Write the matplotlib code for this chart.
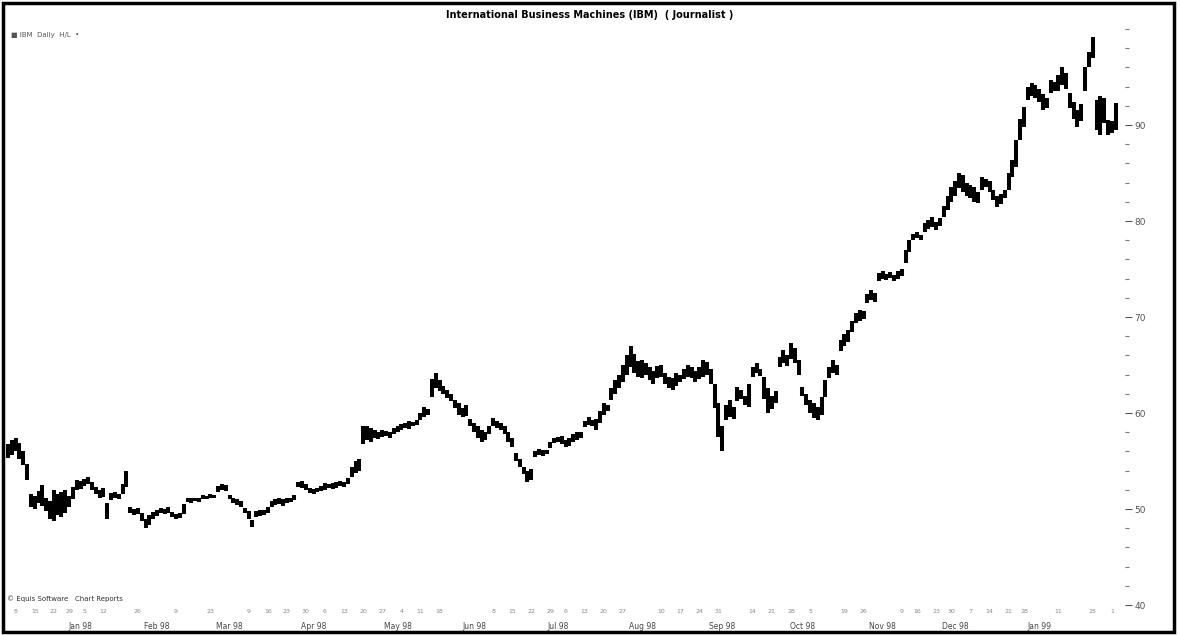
import matplotlib
matplotlib.use("Agg")
import matplotlib.pyplot as plt
from matplotlib.patches import Rectangle
import numpy as np
import pandas as pd
from pandas.tseries.holiday import USFederalHolidayCalendar
from pandas.tseries.offsets import CustomBusinessDay

# daily lows / highs (Dec 97 .. Feb 99)
lows = [
    55.3, 55.6, 56.0, 55.2, 54.6, 53.0, 50.2, 50.0, 50.6, 50.3,
    49.8, 49.0, 48.8, 49.4, 49.2, 49.6, 50.2, 51.0, 52.0, 52.1,
    52.4, 52.6, 52.0, 51.6, 51.2, 51.3, 49.0, 50.9, 51.2, 51.0,
    51.6, 52.3, 49.6, 49.4, 49.5, 48.8, 48.0, 48.3, 49.0, 49.3,
    49.6, 49.5, 49.6, 49.2, 49.0, 49.1, 49.5, 50.7, 50.6, 50.8,
    50.7, 51.0, 51.0, 51.2, 51.1, 51.8, 52.0, 51.9, 51.0, 50.6,
    50.4, 50.2, 49.6, 49.0, 48.1, 49.2, 49.3, 49.4, 49.6, 50.2,
    50.4, 50.5, 50.3, 50.6, 50.7, 50.9, 52.3, 52.2, 52.0, 51.7,
    51.6, 51.8, 51.9, 52.0, 52.2, 52.1, 52.2, 52.4, 52.3, 52.6,
    53.3, 53.8, 54.0, 56.8, 57.2, 57.0, 57.4, 57.3, 57.5, 57.6,
    57.4, 57.8, 58.0, 58.2, 58.4, 58.3, 58.6, 58.8, 59.3, 59.6,
    59.8, 61.7, 62.6, 62.3, 62.0, 61.6, 61.3, 60.5, 59.8, 59.6,
    59.7, 58.6, 58.0, 57.4, 57.0, 57.2, 57.8, 58.6, 58.4, 58.2,
    57.8, 57.0, 56.5, 55.0, 54.4, 53.6, 52.8, 53.0, 55.4, 55.6,
    55.5, 55.7, 56.4, 56.9, 57.0, 56.8, 56.5, 56.6, 57.0, 57.2,
    57.4, 58.5, 58.8, 58.6, 58.2, 59.0, 59.8, 60.2, 61.4, 62.0,
    62.6, 63.2, 64.0, 64.8, 64.2, 63.8, 63.6, 64.0, 63.4, 63.0,
    63.6, 63.8, 63.0, 62.6, 62.4, 62.8, 63.2, 63.5, 63.8, 63.6,
    63.2, 63.5, 63.8, 64.0, 63.0, 60.5, 57.5, 56.0, 59.3, 59.6,
    59.4, 61.3, 61.5, 60.8, 60.6, 63.8, 64.2, 63.9, 61.5, 60.0,
    60.4, 61.0, 64.8, 65.2, 64.9, 65.6, 65.2, 64.0, 61.8, 60.8,
    60.0, 59.5, 59.3, 59.8, 61.7, 63.7, 64.2, 64.0, 66.5, 67.0,
    67.4, 68.4, 69.4, 69.6, 69.8, 71.5, 71.8, 71.6, 73.8, 74.0,
    73.9, 74.1, 73.8, 74.0, 74.3, 75.6, 76.8, 78.0, 78.2, 78.0,
    78.9, 79.2, 79.4, 79.1, 79.5, 80.4, 81.2, 82.0, 82.6, 83.4,
    83.0, 82.6, 82.4, 82.0, 81.9, 83.2, 83.6, 83.0, 82.2, 81.5,
    81.8, 82.4, 83.2, 84.6, 85.6, 88.4, 89.8, 92.6, 93.0, 92.8,
    92.4, 91.6, 91.8, 93.3, 93.6, 93.6, 94.2, 93.8, 91.8, 90.6,
    89.8, 90.4, 93.6, 96.0, 97.0, 89.5, 89.0, 90.2, 89.0, 89.2,
    89.5,
]
highs = [
    56.8, 57.2, 57.4, 56.9, 56.0, 54.7, 51.6, 51.4, 51.9, 52.5,
    51.2, 50.8, 52.0, 51.6, 51.8, 52.0, 51.4, 52.3, 53.0, 52.9,
    53.1, 53.3, 52.8, 52.3, 52.0, 52.2, 50.6, 51.7, 51.8, 51.6,
    52.6, 54.0, 50.2, 50.0, 50.1, 49.6, 49.0, 49.4, 49.7, 49.9,
    50.1, 50.0, 50.2, 49.7, 49.5, 49.6, 50.5, 51.1, 51.1, 51.2,
    51.1, 51.5, 51.4, 51.6, 51.5, 52.4, 52.6, 52.5, 51.5, 51.2,
    51.0, 50.8, 50.1, 49.8, 48.9, 49.8, 49.9, 49.9, 50.2, 50.8,
    51.0, 51.2, 51.0, 51.1, 51.2, 51.5, 52.8, 52.9, 52.6, 52.2,
    52.1, 52.2, 52.4, 52.7, 52.6, 52.7, 52.8, 52.9, 52.8, 53.2,
    54.4, 55.0, 55.2, 58.6, 58.7, 58.4, 58.2, 58.0, 58.2, 58.1,
    58.0, 58.4, 58.7, 58.9, 59.0, 59.2, 59.1, 59.3, 60.0, 60.6,
    60.4, 63.5, 64.2, 63.4, 62.8, 62.4, 62.0, 61.4, 61.0, 60.5,
    60.8, 59.4, 59.0, 58.6, 58.2, 58.0, 58.6, 59.5, 59.2, 59.0,
    58.6, 58.0, 57.4, 55.8, 55.2, 54.4, 54.0, 54.2, 56.0, 56.3,
    56.1, 56.2, 57.0, 57.4, 57.5, 57.6, 57.2, 57.4, 57.8, 58.0,
    58.0, 59.2, 59.6, 59.3, 59.4, 60.2, 61.0, 60.8, 62.6, 63.4,
    64.0, 65.0, 66.0, 67.0, 66.2, 65.4, 65.5, 65.2, 64.8, 64.4,
    64.9, 65.0, 64.2, 63.8, 63.6, 64.2, 64.0, 64.6, 65.0, 64.8,
    64.4, 64.8, 65.5, 65.3, 64.6, 63.0, 61.0, 58.6, 60.8, 61.4,
    60.6, 62.7, 62.4, 61.8, 63.0, 64.8, 65.2, 64.6, 63.8, 62.6,
    61.8, 62.3, 65.8, 66.6, 66.0, 67.3, 66.8, 65.5, 62.7, 62.0,
    61.4, 61.0, 60.6, 61.7, 63.4, 64.8, 65.5, 65.0, 67.6, 68.2,
    68.6, 69.6, 70.4, 70.7, 70.6, 72.4, 72.8, 72.5, 74.6, 74.8,
    74.5, 74.7, 74.4, 74.8, 75.0, 77.0, 78.0, 78.7, 78.9, 78.6,
    79.8, 80.1, 80.4, 79.9, 80.3, 81.6, 82.6, 83.5, 84.2, 85.0,
    84.8, 84.0, 83.8, 83.6, 83.0, 84.6, 84.4, 84.2, 83.2, 82.6,
    82.8, 83.2, 85.0, 86.4, 88.4, 90.6, 91.9, 94.0, 94.4, 94.2,
    93.8, 93.2, 92.8, 94.7, 94.5, 95.2, 96.0, 95.4, 93.3, 92.4,
    91.6, 92.2, 96.0, 97.6, 99.2, 92.6, 93.0, 92.8, 90.5, 90.4,
    92.3,
]

title = "International Business Machines (IBM)  ( Journalist )"
price_ticks = [40, 50, 60, 70, 80, 90]

n = len(lows)
cal = CustomBusinessDay(calendar=USFederalHolidayCalendar())
dates = pd.date_range("1997-12-04", periods=n, freq=cal)
idx = np.arange(n)

fig = plt.figure(figsize=(11.8, 6.35), dpi=100)
ax = fig.add_axes([0.0042, 0.0472, 0.949, 0.907])

ax.vlines(idx, lows, highs, color="black", linewidth=2.9)

ax.set_xlim(-0.8, 292.4)
ax.set_ylim(40, 100)
for s in ax.spines.values():
    s.set_visible(False)

# right hand price scale
ax.yaxis.tick_right()
ax.set_yticks(price_ticks)
ax.set_yticks(np.arange(40, 101, 2), minor=True)
ax.tick_params(axis="y", which="major", length=5, width=0.8, colors="#555555",
               labelsize=6.5, pad=2)
ax.tick_params(axis="y", which="minor", length=3, width=0.8, colors="#777777")

# month labels along the bottom, weekly day numbers above them
months = pd.Series(dates.month)
month_pos = idx[(months != months.shift()).values][1:]
month_pos = month_pos[month_pos < 280]
ax.set_xticks(month_pos)
ax.set_xticklabels([dates[i].strftime("%b %y") for i in month_pos])
week_pos = idx[(pd.Series(dates.dayofweek) == 0).values]
ax.set_xticks(week_pos, minor=True)
ax.set_xticklabels([str(dates[i].day) for i in week_pos], minor=True)
ax.tick_params(axis="x", which="major", length=0, labelsize=5.5, pad=12,
               colors="#444444")
ax.tick_params(axis="x", which="minor", length=0, labelsize=4.5, pad=3,
               colors="#888888")

fig.text(0.5, 0.976, title, ha="center", va="center", fontsize=7,
         fontweight="bold")
fig.text(0.009, 0.945, "\u25a0 IBM  Daily  H/L  \u2022", ha="left", va="center",
         fontsize=5, color="#555555")
fig.text(0.006, 0.058, "\u00a9 Equis Software   Chart Reports", ha="left",
         va="center", fontsize=5, color="#333333")

fig.add_artist(Rectangle((0.0025, 0.005), 0.9925, 0.991, transform=fig.transFigure,
                         fill=False, edgecolor="black", linewidth=2.5))

fig.savefig("out.png", dpi=100)
